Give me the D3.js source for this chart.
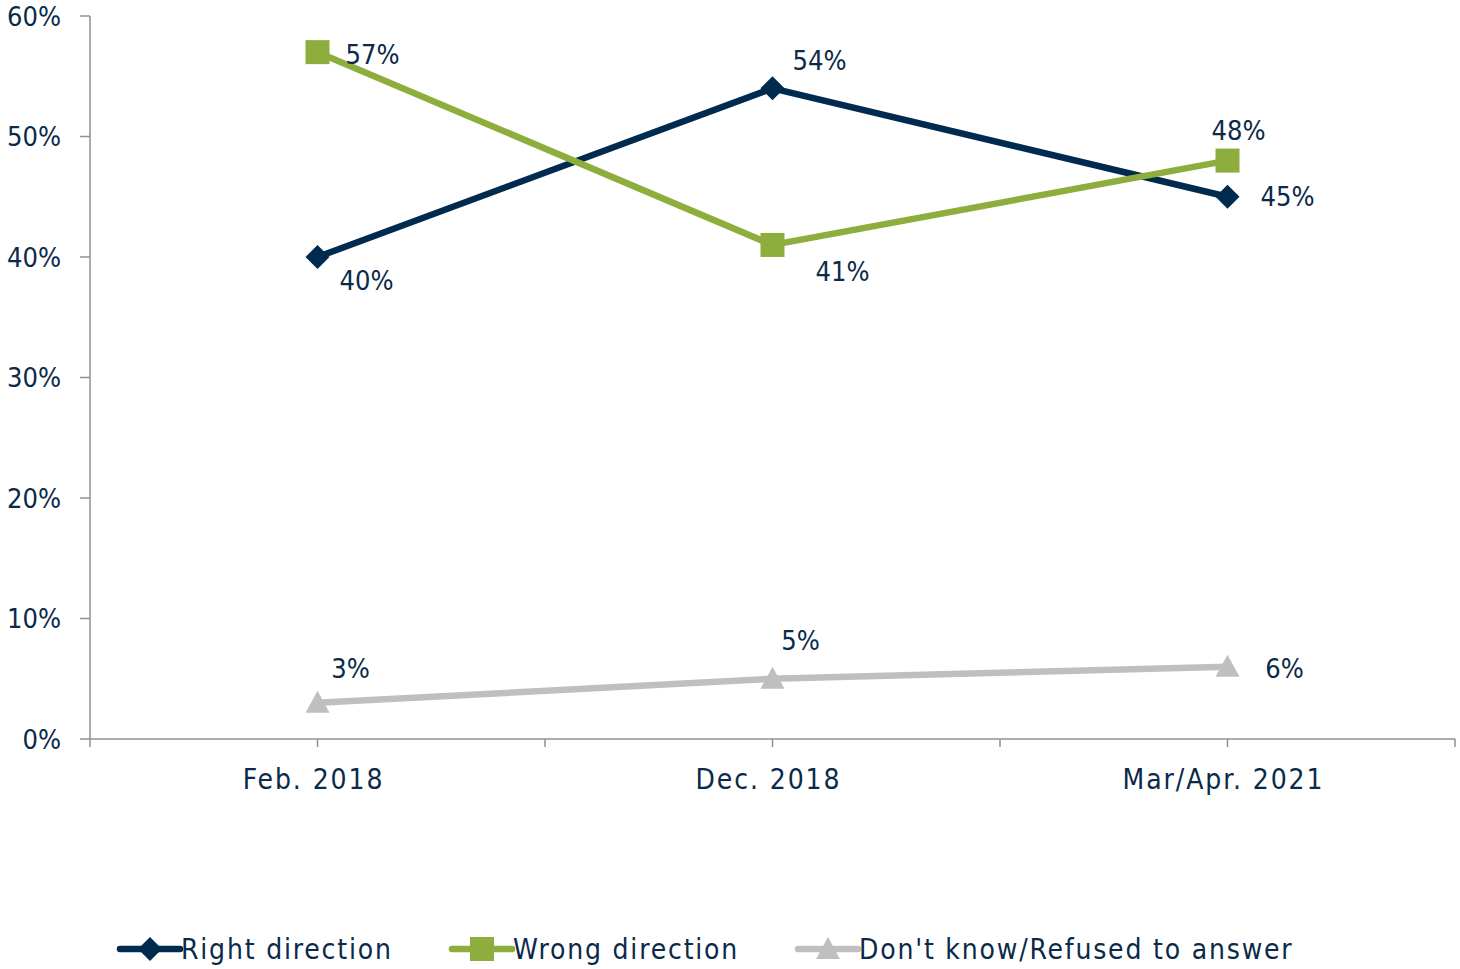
<!DOCTYPE html>
<html>
<head>
<meta charset="utf-8">
<script src="https://cdn.jsdelivr.net/npm/d3@7"></script>
<style>
  body { margin: 0; background: #fff; }
  svg text { font-family: "DejaVu Sans Condensed", "DejaVu Sans", sans-serif; fill: #0b2a4a; }
</style>
</head>
<body>
<div id="chart"></div>
<script>
// data
var periods = ["Feb. 2018", "Dec. 2018", "Mar/Apr. 2021"];
var rightDirection = [40, 54, 45];
var wrongDirection = [57, 41, 48];
var dontKnow = [3, 5, 6];
var yTicks = [0, 10, 20, 30, 40, 50, 60];

var series = [
  { name: "Right direction", values: rightDirection, color: "#002a4e", shape: "diamond",
    // label offsets per point
    lab: [[22, 23, "start"], [20, -28, "start"], [33, 0, "start"]] },
  { name: "Wrong direction", values: wrongDirection, color: "#8dad3c", shape: "square",
    lab: [[28, 2, "start"], [43, 26, "start"], [11, -30, "middle"]] },
  { name: "Don't know/Refused to answer", values: dontKnow, color: "#bfbfbf", shape: "triangle",
    lab: [[33, -35, "middle"], [28, -38, "middle"], [57, 2, "middle"]] }
];

var width = 1460, height = 969;
var svg = d3.select("#chart").append("svg").attr("width", width).attr("height", height);

var x = d3.scaleBand().domain(periods).range([90, 1455]);
var y = d3.scaleLinear().domain([0, 60]).range([739, 16]);
var cx = function (d) { return x(d) + x.bandwidth() / 2; };

// y axis
var axisColor = "#8e9099";
svg.append("line").attr("x1", 90).attr("x2", 90).attr("y1", y(60)).attr("y2", y(0))
  .attr("stroke", axisColor).attr("stroke-width", 1.5);
svg.selectAll(".ytick").data(yTicks).enter().append("line")
  .attr("x1", 80).attr("x2", 90).attr("y1", function (d) { return y(d); }).attr("y2", function (d) { return y(d); })
  .attr("stroke", axisColor).attr("stroke-width", 1.5);
svg.selectAll(".ylab").data(yTicks).enter().append("text")
  .attr("x", 61).attr("y", function (d) { return y(d); }).attr("dy", "0.36em")
  .attr("text-anchor", "end").style("font-size", "27px")
  .text(function (d) { return d + "%"; });

// x axis
svg.append("line").attr("x1", 90).attr("x2", 1455).attr("y1", y(0)).attr("y2", y(0))
  .attr("stroke", axisColor).attr("stroke-width", 1.5);
var xt = [90];
periods.forEach(function (p) { xt.push(cx(p)); xt.push(x(p) + x.bandwidth()); });
svg.selectAll(".xtick").data(xt).enter().append("line")
  .attr("x1", function (d) { return d; }).attr("x2", function (d) { return d; })
  .attr("y1", y(0)).attr("y2", y(0) + 8)
  .attr("stroke", axisColor).attr("stroke-width", 1.5);
svg.selectAll(".xlab").data(periods).enter().append("text")
  .attr("x", function (d) { return cx(d) - 4; }).attr("y", 789)
  .attr("text-anchor", "middle").style("font-size", "28px").style("letter-spacing", "1.9px")
  .text(function (d) { return d; });

function marker(g, shape, color, px, py) {
  if (shape === "diamond") {
    g.append("path").attr("d", "M" + px + "," + (py - 12) + "L" + (px + 12) + "," + py + "L" + px + "," + (py + 12) + "L" + (px - 12) + "," + py + "Z")
      .attr("fill", color);
  } else if (shape === "square") {
    g.append("rect").attr("x", px - 12).attr("y", py - 12).attr("width", 24).attr("height", 24).attr("fill", color);
  } else {
    g.append("path").attr("d", "M" + px + "," + (py - 12) + "L" + (px + 12) + "," + (py + 10) + "L" + (px - 12) + "," + (py + 10) + "Z")
      .attr("fill", color);
  }
}

var line = d3.line().x(function (d, i) { return cx(periods[i]); }).y(function (d) { return y(d); });

series.forEach(function (s) {
  var g = svg.append("g");
  g.append("path").datum(s.values).attr("d", line)
    .attr("fill", "none").attr("stroke", s.color).attr("stroke-width", 6.5);
  s.values.forEach(function (v, i) {
    marker(g, s.shape, s.color, cx(periods[i]), y(v));
  });
  s.values.forEach(function (v, i) {
    var o = s.lab[i];
    g.append("text").attr("x", cx(periods[i]) + o[0]).attr("y", y(v) + o[1]).attr("dy", "0.36em")
      .attr("text-anchor", o[2]).style("font-size", "27px").text(v + "%");
  });
});

// legend
var legX = [120, 452, 798];
series.forEach(function (s, i) {
  var g = svg.append("g");
  var ly = 949;
  g.append("line").attr("x1", legX[i]).attr("x2", legX[i] + 60).attr("y1", ly).attr("y2", ly)
    .attr("stroke", s.color).attr("stroke-width", 6.5).attr("stroke-linecap", "round");
  marker(g, s.shape, s.color, legX[i] + 30, ly);
  g.append("text").attr("x", legX[i] + 61).attr("y", ly).attr("dy", "0.36em")
    .style("font-size", "28px").style("letter-spacing", "1.8px").text(s.name);
});
</script>
</body>
</html>
